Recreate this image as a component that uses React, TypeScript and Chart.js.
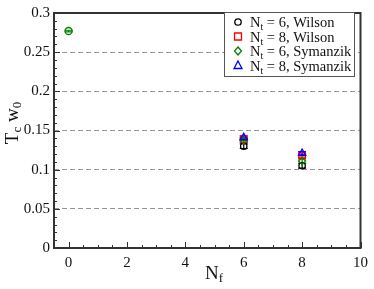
import React, { useEffect, useRef } from "react";
import { Chart, registerables } from "chart.js";

Chart.register(...registerables);

// ---- data ----
const nfW6 = [6, 8];
const valW6 = [0.130, 0.105];
const errW6 = [0.003, 0.003];

const nfW8 = [6, 8];
const valW8 = [0.139, 0.118];
const errW8 = [0.002, 0.002];

const nfS6 = [0, 6, 8];
const valS6 = [0.277, 0.137, 0.111];
const errS6 = [0.001, 0.002, 0.003];

const nfS8 = [6, 8];
const valS8 = [0.141, 0.121];
const errS8 = [0.002, 0.002];

const seriesNt = ["6", "8", "6", "8"];
const seriesAction = ["Wilson", "Wilson", "Symanzik", "Symanzik"];
const seriesColors = ["#000000", "#ff0000", "#008000", "#0000ff"];
const seriesStyles = ["circle", "square", "diamond", "triangle"];

const xTicks = [0, 2, 4, 6, 8, 10];
const yTicks = [0, 0.05, 0.1, 0.15, 0.2, 0.25, 0.3];
const yTickLabels = ["0", "0.05", "0.1", "0.15", "0.2", "0.25", "0.3"];

const SERIF = "'Liberation Serif', 'DejaVu Serif', serif";

function toPts(xs: number[], ys: number[]) {
  return xs.map((x, i) => ({ x, y: ys[i] }));
}

function drawMarker(ctx: CanvasRenderingContext2D, style: string, x: number, y: number, color: string) {
  ctx.save();
  ctx.strokeStyle = color;
  ctx.lineWidth = 1.3;
  ctx.beginPath();
  if (style === "circle") {
    ctx.arc(x, y, 3.2, 0, Math.PI * 2);
  } else if (style === "square") {
    ctx.rect(x - 3.5, y - 3.5, 7, 7);
  } else if (style === "diamond") {
    ctx.moveTo(x, y - 4);
    ctx.lineTo(x + 3.5, y);
    ctx.lineTo(x, y + 4);
    ctx.lineTo(x - 3.5, y);
    ctx.closePath();
  } else {
    ctx.moveTo(x, y - 4.5);
    ctx.lineTo(x + 4, y + 3);
    ctx.lineTo(x - 4, y + 3);
    ctx.closePath();
  }
  ctx.stroke();
  ctx.restore();
}

const errs = [errW6, errW8, errS6, errS8];

const customPlugin = {
  id: "custom",
  beforeDatasetsDraw(chart: any) {
    const ctx = chart.ctx;
    const xs = chart.scales.x;
    const ys = chart.scales.y;
    chart.data.datasets.forEach((ds: any, di: number) => {
      const e = errs[di];
      ctx.save();
      ctx.strokeStyle = seriesColors[di];
      ctx.lineWidth = 1.2;
      ds.data.forEach((p: any, i: number) => {
        const px = xs.getPixelForValue(p.x);
        const yt = ys.getPixelForValue(p.y + e[i]);
        const yb = ys.getPixelForValue(p.y - e[i]);
        ctx.beginPath();
        ctx.moveTo(px, yt);
        ctx.lineTo(px, yb);
        ctx.moveTo(px - 4, yt);
        ctx.lineTo(px + 4, yt);
        ctx.moveTo(px - 4, yb);
        ctx.lineTo(px + 4, yb);
        ctx.stroke();
      });
      ctx.restore();
    });
  },
  afterDraw(chart: any) {
    const ctx: CanvasRenderingContext2D = chart.ctx;
    const a = chart.chartArea;
    const xs = chart.scales.x;
    const ys = chart.scales.y;
    ctx.save();
    // minor / major ticks inward
    ctx.strokeStyle = "#333";
    ctx.lineWidth = 1;
    for (let k = 0; k <= 30; k++) {
      const v = k * 0.01;
      const py = Math.round(ys.getPixelForValue(v)) + 0.5;
      const len = k % 5 === 0 ? 6 : 3;
      ctx.beginPath();
      ctx.moveTo(a.left, py);
      ctx.lineTo(a.left + len, py);
      ctx.stroke();
    }
    for (let k = 0; k <= 20; k++) {
      const v = k * 0.5;
      const px = Math.round(xs.getPixelForValue(v)) + 0.5;
      const len = k % 4 === 0 ? 6 : 3;
      ctx.beginPath();
      ctx.moveTo(px, a.bottom);
      ctx.lineTo(px, a.bottom - len);
      ctx.stroke();
    }
    // frame
    ctx.strokeStyle = "#333";
    ctx.lineWidth = 2;
    ctx.strokeRect(a.left, a.top, a.right - a.left, a.bottom - a.top);

    // axis titles
    ctx.fillStyle = "#111";
    ctx.textBaseline = "alphabetic";
    ctx.textAlign = "left";
    // x title N_f
    const startX = 205;
    ctx.font = `19px ${SERIF}`;
    const wN = ctx.measureText("N").width;
    ctx.fillText("N", startX, 279);
    ctx.font = `13px ${SERIF}`;
    ctx.fillText("f", startX + wN, 282);

    // y title T_c w_0
    ctx.save();
    ctx.translate(18, 123);
    ctx.rotate(-Math.PI / 2);
    const parts: [string, number, number][] = [
      ["T", 19, 0],
      ["c", 13, 3],
      [" w", 19, 0],
      ["0", 13, 3],
    ];
    let total = 0;
    parts.forEach(([t, s]) => {
      ctx.font = `${s}px ${SERIF}`;
      total += ctx.measureText(t).width;
    });
    let xx = -total / 2;
    parts.forEach(([t, s, dy]) => {
      ctx.font = `${s}px ${SERIF}`;
      ctx.fillText(t, xx, 0 + dy);
      xx += ctx.measureText(t).width;
    });
    ctx.restore();

    // legend
    const lx = 224, ly = 12, lw = 130, lh = 64;
    ctx.fillStyle = "#fff";
    ctx.fillRect(lx, ly, lw, lh);
    ctx.strokeStyle = "#555";
    ctx.lineWidth = 1;
    ctx.strokeRect(lx + 0.5, ly + 0.5, lw, lh);
    for (let i = 0; i < 4; i++) {
      const ry = 22 + i * 14.5;
      drawMarker(ctx, seriesStyles[i], 238, ry, seriesColors[i]);
      ctx.fillStyle = "#111";
      ctx.textAlign = "left";
      let tx = 250;
      const base = ry + 5;
      ctx.font = `14.5px ${SERIF}`;
      ctx.fillText("N", tx, base);
      tx += ctx.measureText("N").width;
      ctx.font = `10px ${SERIF}`;
      ctx.fillText("t", tx, base + 3);
      tx += ctx.measureText("t").width;
      ctx.font = `14.5px ${SERIF}`;
      ctx.fillText(` = ${seriesNt[i]}, ${seriesAction[i]}`, tx, base);
    }
    ctx.restore();
  },
};

export default function App() {
  const ref = useRef<HTMLCanvasElement | null>(null);
  useEffect(() => {
    if (!ref.current) return;
    const mk = (label: string, xs: number[], ys: number[], color: string, style: any, radius: number, order: number) => ({
      label,
      data: toPts(xs, ys),
      borderColor: color,
      backgroundColor: "rgba(0,0,0,0)",
      pointStyle: style,
      pointRadius: radius,
      pointBorderWidth: 1.3,
      showLine: false,
      order,
    });
    const chart = new Chart(ref.current, {
      type: "scatter",
      data: {
        datasets: [
          mk("Nt = 6, Wilson", nfW6, valW6, seriesColors[0], "circle", 3.2, 3),
          mk("Nt = 8, Wilson", nfW8, valW8, seriesColors[1], "rect", 4.6, 2),
          mk("Nt = 6, Symanzik", nfS6, valS6, seriesColors[2], ["circle", "rectRot", "rectRot"], 3.5, 1),
          mk("Nt = 8, Symanzik", nfS8, valS8, seriesColors[3], "triangle", 4.2, 0),
        ] as any,
      },
      options: {
        animation: false,
        responsive: false,
        layout: { padding: { top: 6, right: 8, left: 0, bottom: 0 } },
        plugins: { legend: { display: false }, tooltip: { enabled: false } },
        scales: {
          x: {
            type: "linear",
            min: -0.5,
            max: 10,
            afterBuildTicks: (s: any) => {
              s.ticks = xTicks.map((v) => ({ value: v }));
            },
            afterFit: (s: any) => {
              s.height = 41;
            },
            grid: { display: false, drawTicks: false },
            border: { display: false },
            ticks: {
              padding: 6,
              maxRotation: 0,
              color: "#111",
              font: { family: SERIF, size: 15 },
              callback: (v: any) => String(v),
            },
          },
          y: {
            type: "linear",
            min: 0,
            max: 0.3,
            afterBuildTicks: (s: any) => {
              s.ticks = yTicks.map((v) => ({ value: v }));
            },
            afterFit: (s: any) => {
              s.width = 54;
            },
            grid: {
              drawTicks: false,
              color: (c: any) => (c.tick && (c.tick.value === 0 || c.tick.value === 0.3) ? "rgba(0,0,0,0)" : "#999"),
              lineWidth: 1,
            },
            border: { display: false, dash: [5, 3] },
            ticks: {
              padding: 4,
              color: "#111",
              font: { family: SERIF, size: 15 },
              callback: (_v: any, i: number) => yTickLabels[i],
            },
          },
        },
      },
      plugins: [customPlugin],
    });
    return () => chart.destroy();
  }, []);
  return (
    <div style={{ position: "absolute", left: 0, top: 0, width: 374, height: 289 }}>
      <canvas ref={ref} width={374} height={289} style={{ display: "block" }} />
    </div>
  );
}
